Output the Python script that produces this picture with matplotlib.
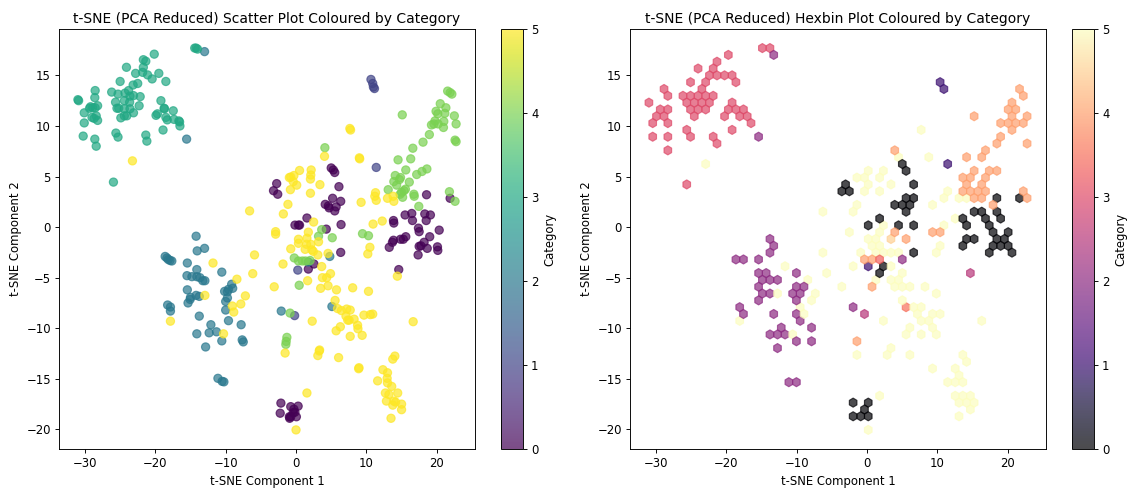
import matplotlib
matplotlib.use('Agg')
import matplotlib.pyplot as plt
import numpy as np

# t-SNE coordinates, one pair of lists per category
cat0_x = [-2.75, -3.2, -2.6, 6.1, 5.0, 5.3, 5.5, 5.2, 4.15, 4.6, 4.7, 5.7, 6.35, 5.5, 1.55, -0.15, 0.35, 0.5, 4.3, 6.4,
          6.35, 15.5, 16.45, 16.55, 18.3, 19.1, 18.5, 13.85, 13.9, 18.55, 21.9, 17.4, 17.5, 20.35, 19.0, 15.6, 15.25,
          14.85, 13.85, 13.7, 13.25, 18.2, 17.75, 17.5, 18.65, 20.1, 20.15, 17.35, 14.6, 2.55, 1.75, -2.15, -0.75, 0.3,
          -0.3, -0.15, -2.25, 0.05, -0.9, -0.75, -0.4, -0.95]
cat0_y = [4.3, 3.6, 3.25, 4.0, 5.85, 5.65, 5.4, 2.85, 2.25, 2.1, 1.9, 2.0, 2.55, 1.6, 0.9, 0.2, 0.2, 0.2, -0.2, 0.25,
          -2.5, 1.2, 1.35, 0.65, 1.3, 1.2, 0.65, 0.65, 0.4, 3.2, 2.85, -0.1, -0.45, -0.3, -0.95, -0.95, -1.2,
          -1.2, -1.3, -1.5, -2.0, -1.5, -1.85, -1.9, -2.1, -1.95, -2.3, -2.75, -4.2, -3.65, -4.15, -17.4, -17.75, -17.7,
          -18.0, -18.3, -18.4, -18.75, -18.9, -18.75, -18.35, -18.75]

cat1_x = [10.65, 10.9, 11.0, 11.15, 11.4, 0.25, -0.2]
cat1_y = [14.6, 14.2, 13.85, 13.7, 5.9, -4.25, -8.75]

cat2_x = [-13.0, -15.55, -14.2, -14.05, -13.0, -18.6, -18.35, -18.15, -17.9, -17.65, -15.45, -10.55, -14.1, -15.5,
          -14.8, -14.1, -13.65, -13.25, -12.95, -9.15, -9.0, -9.6, -10.15, -9.75, -15.45, -14.2, -13.75, -15.0, -15.05,
          -15.35, -9.75, -10.0, -10.0, -18.25, -17.85, -17.85, -13.75, -9.6, -12.1, -7.8, -14.1, -12.35, -11.3, -10.55,
          -12.85, -7.65, -7.5, -11.1, -10.5, -10.25, -2.1, 4.8, 1.75, 5.1]
cat2_y = [17.35, 8.7, -0.9, -2.35, -2.1, -2.9, -3.05, -3.2, -3.3, -3.35, -3.55, -4.45, -4.2, -4.8,
          -4.9, -4.9, -5.0, -5.3, -5.3, -5.65, -6.05, -6.15, -6.35, -6.4, -6.2, -6.75, -6.85, -6.95, -7.15,
          -7.5, -7.0, -7.35, -8.2, -7.7, -7.9, -8.3, -8.8, -9.25, -9.65, -9.65, -10.55, -10.45, -10.35, -11.25,
          -11.85, -11.15, -11.35, -14.95, -15.25, -15.3, -8.3, -2.9, -3.45, -7.85]

cat3_x = [-30.9, -31.0, -30.1, -30.1, -30.25, -28.6, -28.4, -28.55, -28.6, -28.2, -29.2, -28.55, -28.9, -29.35, -29.0,
          -28.4, -28.2, -28.7, -26.2, -25.3, -24.3, -23.8, -23.15, -22.5, -22.15, -23.1, -23.6, -23.65, -24.4, -25.65,
          -25.2, -25.45, -24.4, -23.6, -22.3, -23.1, -24.05, -24.4, -24.9, -25.6, -25.3, -21.35, -21.2, -25.0, -24.1,
          -22.8, -21.8, -21.7, -21.7, -21.35, -21.1, -20.45, -20.15, -19.5, -18.5, -19.2, -18.75, -18.7, -17.45, -19.7,
          -19.9, -18.5, -18.3, -17.35, -16.65, -16.55, -16.5, -18.9, -25.95, -14.4, -14.2, -14.0]
cat3_y = [12.5, 12.6, 11.3, 10.3, 9.0, 8.7, 8.0, 13.5, 12.8, 12.0, 11.9, 11.8, 11.8, 11.75, 10.85,
          11.0, 10.55, 10.75, 13.35, 13.15, 13.25, 13.5, 14.05, 14.2, 12.9, 13.0, 12.95, 12.35, 12.5, 12.35,
          11.75, 11.75, 11.7, 11.7, 12.0, 11.3, 11.0, 11.0, 10.8, 9.3, 8.9, 9.1, 8.5, 14.4, 15.8,
          15.2, 15.3, 15.8, 16.55, 16.4, 15.05, 14.65, 17.1, 15.2, 14.4, 12.5, 11.75, 11.7, 11.5, 11.2,
          11.05, 10.85, 10.6, 10.65, 10.5, 10.4, 10.0, 9.6, 4.45, 17.7, 17.7, 17.6]

cat4_x = [21.55, 21.9, 22.15, 20.5, 21.3, 19.9, 20.15, 21.15, 22.5, 15.1, 19.75, 21.0, 19.6, 22.75, 19.25, 20.2, 20.95,
          18.95, 22.6, 22.75, 18.05, 16.6, 4.1, 16.3, 14.5, 15.6, 18.6, 17.9, 17.15, 14.1, 14.85, 14.7, 13.9, 16.1, 14.3,
          15.55, 13.1, 15.0, 15.35, 14.8, 16.75, 16.8, 15.15, 21.8, 22.6, 17.45, 9.45, 10.3, 5.15, 3.65, 3.2,
          -0.25, 0.35, 0.9, 1.35, 2.0, 0.45, -0.85, -1.3, -1.4, -1.45]
cat4_y = [13.45, 13.3, 13.15, 12.2, 11.8, 11.45, 11.2, 11.25, 11.0, 11.1, 10.5, 10.45, 10.2, 10.2, 10.1, 10.2, 9.85,
          9.15, 8.6, 8.45, 8.4, 7.8, 7.85, 6.75, 6.65, 5.65, 5.75, 5.5, 5.2, 5.1, 4.9, 4.7, 4.5, 4.45, 4.15,
          3.75, 3.7, 3.45, 3.6, 3.25, 3.25, 3.05, 2.95, 3.5, 2.55, 2.05, -0.65, -0.85, -1.05, -0.25, -0.9,
          -3.05, -3.35, -3.35, -3.35, -3.3, -5.75, -8.5, -10.9, -11.3, -11.6]

cat5_x = [-23.25, -6.6, 7.65, 7.75, 4.05, 9.0, 9.05, 11.3, 11.2, 11.4, 9.25, 13.0, 13.8, 13.9, 0.5, 2.15, 2.1, 2.05,
          -0.3, -0.75, -0.95, -0.4, 0.1, -0.8, 3.4, 2.05, -1.15, -1.8, 2.5, 10.95, 12.25, 1.75, -2.9, -2.9, 0.35, 0.35,
          1.55, 3.2, 1.5, 2.1, 10.5, -0.75, 1.3, 2.25, 2.45, 4.55, 3.1, 10.2, -1.85, 3.65, 1.65, -3.1, 3.75, 4.35, 4.9,
          3.5, 4.55, 5.75, 5.55, 5.9, 2.3, -1.55, 3.1, 3.35, 3.3, 1.55, 0.0, 6.05, -5.9, -6.15, -11.8, -8.4, -12.95,
          -7.2, -7.85, -9.05, -8.85, -10.3, -17.85, 14.4, 8.05, 10.3, 6.45, 7.2, 7.7, 7.1, 7.35, 7.55, 8.25, 8.75, 8.8,
          6.3, 5.7, 7.7, 9.4, 9.65, 10.55, 10.9, 16.65, 8.95, 8.9, 14.05, 13.75, 12.35, 13.0, 12.95, 11.6, 13.0, 13.6,
          12.7, 13.2, 14.45, 12.85, 13.9, 14.15, 15.0, 13.75, 15.0, 13.5]
cat5_y = [6.55, 1.6, 9.75, 9.6, 7.0, 6.85, 6.75, 3.4, 3.05, 2.65, 2.45, 2.85, 3.05, 2.55, 5.6, 5.65, 5.15, 4.75,
          5.1, 4.95, 4.9, 4.5, 4.15, 3.7, 4.2, 3.35, 2.25, 1.3, 0.5, 0.3, 0.6, -0.5, -0.45, -0.7, -1.2, -1.6,
          -1.1, -1.45, -1.7, -1.7, -2.0, -2.15, -2.2, -2.25, -2.4, -2.6, -2.75, -2.65, -3.65, -3.9, -5.3, -5.9, -5.0, -5.0, -4.6,
          -6.05, -5.8, -6.2, -7.25, -8.05, -9.3, -12.45, -12.7, -12.15, -12.25, -16.4, -20.05, -12.9, -2.75, -4.6, -3.55, -5.15, -6.75,
          -6.8, -7.6, -7.8, -8.4, -10.55, -9.3, -4.85, -6.0, -6.35, -8.25, -8.1, -8.2, -8.8, -9.2, -9.2, -9.1, -9.7, -10.05,
          -9.85, -10.25, -10.8, -10.7, -8.7, -8.65, -8.6, -9.35, -13.9, -14.0, -12.75, -13.05, -14.1, -14.4, -14.95, -15.2, -15.4, -15.75,
          -16.4, -16.55, -16.4, -17.2, -17.2, -17.3, -17.5, -17.6, -18.05, -18.9]

xs = [cat0_x, cat1_x, cat2_x, cat3_x, cat4_x, cat5_x]
ys = [cat0_y, cat1_y, cat2_y, cat3_y, cat4_y, cat5_y]

x = np.concatenate(xs)
y = np.concatenate(ys)
category = np.concatenate([np.full(len(a), i, dtype=float) for i, a in enumerate(xs)])

W, H = 1127, 489
DPI = 83.3  # the reference is a downscaled export, default font sizes fit at this dpi
fig = plt.figure(figsize=((W + 0.01) / DPI, (H + 0.01) / DPI), dpi=DPI)


def px_axes(left, right, top, bottom):
    return fig.add_axes([left / W, 1 - bottom / H, (right - left) / W, (bottom - top) / H])


ax1 = px_axes(59, 475, 29, 449)
cax1 = px_axes(501, 523, 29, 449)
ax2 = px_axes(630, 1046, 29, 449)
cax2 = px_axes(1072, 1094, 29, 449)

sc = ax1.scatter(x, y, c=category, cmap='viridis', alpha=0.7, s=50, vmin=0, vmax=5)
ax1.set_title('t-SNE (PCA Reduced) Scatter Plot Coloured by Category', pad=5)
ax1.set_xlabel('t-SNE Component 1')
ax1.set_ylabel('t-SNE Component 2')
cb1 = fig.colorbar(sc, cax=cax1)
cb1.set_label('Category')
cb1.set_ticks([0, 1, 2, 3, 4, 5])

hb = ax2.hexbin(x, y, C=category, gridsize=50, cmap='magma', alpha=0.7, vmin=0, vmax=5)
ax2.set_title('t-SNE (PCA Reduced) Hexbin Plot Coloured by Category', pad=5)
ax2.set_xlabel('t-SNE Component 1')
ax2.set_ylabel('t-SNE Component 2')
cb2 = fig.colorbar(hb, cax=cax2)
cb2.set_label('Category')
cb2.set_ticks([0, 1, 2, 3, 4, 5])

fig.savefig('out.png', dpi=DPI)
